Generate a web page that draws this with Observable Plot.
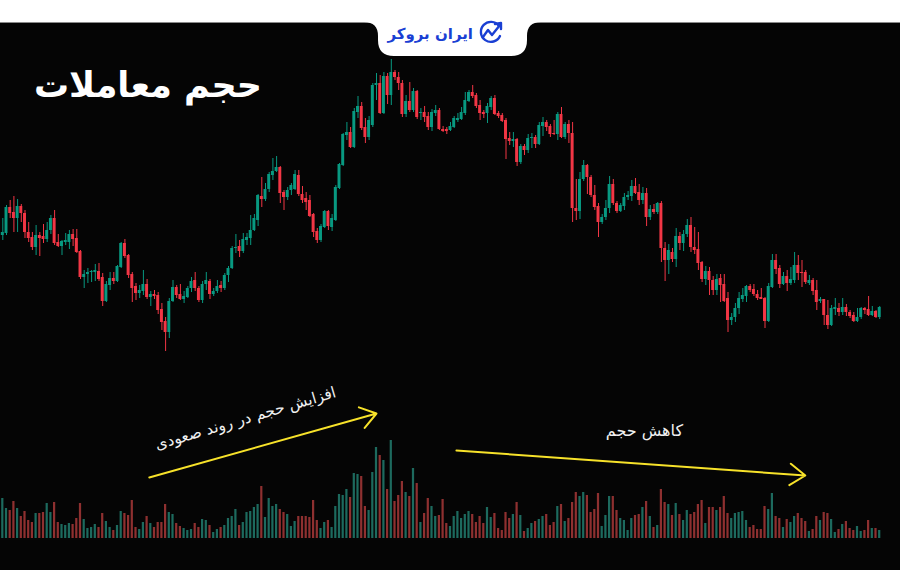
<!DOCTYPE html>
<html>
<head>
<meta charset="utf-8">
<script src="https://cdn.jsdelivr.net/npm/d3@7"></script>
<script src="https://cdn.jsdelivr.net/npm/@observablehq/plot@0.6"></script>
<style>
  html, body { margin: 0; padding: 0; background: #fff; }
  #wrap { position: relative; width: 900px; height: 570px; overflow: hidden;
          background: linear-gradient(to bottom, #ffffff 0 22px, #8a8a8a 22px 23px, #050505 23px); }
  .layer { position: absolute; left: 0; top: 0; }
  #title { position: absolute; right: 638px; top: 63px; direction: rtl; color: #fff;
           font-family: "DejaVu Sans", sans-serif; font-weight: bold; font-size: 35px; line-height: 44px;
           letter-spacing: -0.5px; white-space: nowrap; }
</style>
</head>
<body>
<div id="wrap">
  <div id="price" class="layer"></div>
  <div id="vol" class="layer"></div>
  <svg class="layer" width="900" height="60" viewBox="0 0 900 60">
    <path d="M 364 22 Q 378 22 378 36 L 378 40 Q 378 56 394 56 L 511 56 Q 527 56 527 40 L 527 36 Q 527 22 541 22 Z" fill="#ffffff"/>
    <text x="473" y="39" text-anchor="end" font-family="DejaVu Sans" font-weight="bold" font-size="15" fill="#1a3fd3">ایران بروکر</text>
    <g fill="none" stroke="#1a3fd3" stroke-width="2.4" stroke-linecap="round" stroke-linejoin="round">
      <path d="M 499 26 A 10 10 0 1 0 500 36"/>
      <polyline points="483,37 488,30 492,35 500,25"/>
      <polyline points="495,24 501,23 501,29"/>
    </g>
  </svg>
  <div id="title">حجم معاملات</div>
</div>
<script>
// ---- data (price units, volume units) ----
const open = [165,167,193,188,182,194,187,168,163,153,
165,164,161,170,182,158,154,158,158,166,
162,149,123,126,128,128,129,123,99,115,
122,119,133,157,145,126,114,107,109,116,
103,106,105,91,79,68,99,113,106,101,
103,112,120,112,100,116,119,106,109,115,
112,125,132,152,154,149,160,162,170,180,
204,201,211,225,229,233,208,203,210,211,
225,206,202,200,186,169,160,173,189,173,
180,212,235,265,268,253,288,294,273,263,
275,315,317,287,324,305,328,323,317,286,
299,290,309,287,288,284,273,287,290,271,
271,270,273,280,281,287,299,308,305,295,
288,287,293,302,287,285,280,262,259,261,
238,254,250,262,263,256,274,278,274,267,
266,286,263,276,267,192,189,221,235,223,
205,194,178,183,192,216,197,189,194,203,
204,214,208,200,207,183,191,188,197,152,
140,148,141,164,157,166,175,153,151,138,
121,129,120,110,122,116,102,80,83,92,
101,104,114,111,106,103,102,79,113,140,
132,116,124,117,120,135,128,128,117,120,
110,99,101,85,75,91,92,88,93,88,
85,79,83,92,91,85,89,83];
const close = [168,193,187,182,194,187,168,162,153,165,
162,161,170,182,157,154,159,160,166,161,
148,123,126,128,129,130,121,99,116,122,
119,134,157,144,125,112,107,110,116,103,
106,104,90,78,68,99,113,105,101,104,
112,119,112,100,116,120,106,109,114,112,
125,132,152,153,149,161,163,170,182,205,
201,211,226,229,233,207,203,210,215,226,
206,200,198,184,168,160,174,189,174,182,
213,236,266,268,253,289,294,272,263,280,
315,317,287,324,305,328,323,317,286,299,
290,309,283,288,283,273,288,290,271,269,
269,274,282,282,288,300,308,304,294,287,
286,294,302,286,284,279,261,259,261,238,
254,250,262,263,256,275,278,273,266,266,
286,263,276,267,192,189,221,235,223,205,
193,178,183,192,216,197,189,195,203,205,
214,207,200,207,183,191,188,197,152,140,
150,141,164,157,166,175,153,150,137,121,
129,120,110,121,115,99,80,83,92,102,
105,114,110,106,102,101,79,114,140,131,
116,124,117,121,135,127,127,118,120,109,
98,101,85,75,92,93,88,93,88,84,
79,83,92,90,85,89,83,93];
const high = [182,195,200,204,201,196,190,178,168,175,
168,176,178,185,190,166,160,167,170,171,
171,150,130,132,130,136,137,127,119,128,
128,135,158,161,146,128,117,115,130,121,
109,110,108,97,83,102,120,115,116,109,
114,123,128,114,119,128,121,112,120,119,
127,134,154,166,160,167,167,185,186,206,
223,217,228,242,244,234,210,213,217,230,
230,214,208,205,187,172,176,190,190,186,
215,237,267,278,273,292,304,298,282,284,
317,327,325,328,327,341,330,328,320,305,
318,312,310,292,294,288,291,295,292,274,
273,278,284,287,293,308,310,315,307,300,
290,297,304,305,289,287,282,268,268,262,
256,256,266,267,265,278,283,280,276,280,
288,293,278,280,278,221,228,240,236,225,
215,197,186,200,224,221,199,197,207,209,
220,222,216,213,212,195,196,198,199,158,
156,152,172,168,170,181,183,173,168,139,
134,133,124,126,126,126,108,87,97,108,
112,115,116,116,110,112,103,117,146,146,
135,128,130,133,148,145,140,130,125,122,
120,103,101,100,95,102,97,102,96,90,
88,92,93,93,104,94,90,94];
const low = [160,165,182,168,168,178,162,158,150,145,
144,157,158,166,155,153,145,155,151,154,
147,121,112,117,118,119,119,94,98,110,
116,118,132,142,122,98,100,102,105,101,
94,101,86,70,49,62,98,102,100,97,
102,108,109,98,97,110,101,104,107,108,
110,118,131,147,143,147,155,155,169,174,
193,199,208,220,228,197,190,200,205,210,
204,197,190,183,163,157,158,172,170,169,
179,211,234,260,252,252,282,270,257,260,
273,300,286,286,296,295,320,310,283,283,
288,288,281,280,278,270,269,284,270,268,
266,269,272,278,280,285,298,302,292,280,
282,277,290,285,282,278,241,255,253,234,
236,245,247,252,252,255,264,269,263,265,
260,262,261,257,178,180,181,219,206,203,
190,163,176,180,187,195,187,188,190,200,
199,206,195,196,174,180,186,186,138,119,
126,138,133,150,149,163,148,146,130,118,
115,105,105,105,98,98,68,75,78,86,
98,98,108,104,100,101,72,78,112,126,
112,115,109,115,117,120,113,116,115,105,
90,97,75,71,74,85,84,85,84,82,
78,78,81,86,84,84,82,81];
const volume = [40,30,28,37,30,22,27,18,16,25,
25,26,35,26,36,16,14,13,15,14,
20,35,19,10,11,14,11,25,17,11,
8,13,27,25,23,38,11,9,16,22,
15,11,16,16,34,26,24,15,12,10,
8,9,15,11,19,18,13,6,9,11,
13,20,22,29,13,16,26,27,31,34,
52,21,40,32,34,29,26,24,12,17,
22,22,22,21,38,18,10,16,18,11,
32,44,43,49,41,65,64,62,32,28,
66,91,83,78,49,98,37,43,57,46,
42,70,55,16,25,40,32,22,23,39,
15,12,22,27,20,24,27,24,16,22,
15,31,21,25,10,8,26,20,24,36,
23,7,10,15,17,19,22,24,13,16,
32,34,17,20,36,46,42,46,43,26,
29,45,12,23,42,42,28,20,18,8,
20,23,24,31,37,22,11,13,49,36,
34,23,35,24,18,28,24,26,34,38,
15,31,31,28,31,42,25,20,25,26,
27,18,11,13,9,9,32,29,45,22,
20,11,19,16,22,25,20,17,7,9,
22,18,26,25,19,6,9,14,17,10,
8,12,7,8,18,10,10,8];

// annotations in chart coordinates (bar index, volume units)
const arrowStartX = [39.6, 122.6];
const arrowStartY = [61, 88];
const arrowEndX = [101.0, 216.9];
const arrowEndY = [125, 63];
const noteText = ["افزایش حجم در روند صعودی", "کاهش حجم"];
const noteX = [65.6, 173.4];
const noteY = [120, 108];
const noteAngle = [-16.4, 0];

const GREEN = "#089981", RED = "#f23645";
const VGREEN = "#1d6a5e", VRED = "#8e3030";
const YELLOW = "#f7e22a";

const candles = d3.range(open.length).map(i => ({
  i, o: open[i], h: high[i], l: low[i], c: close[i], v: volume[i], up: close[i] >= open[i]
}));
const arrows = arrowStartX.map((_, k) => ({x1: arrowStartX[k], y1: arrowStartY[k], x2: arrowEndX[k], y2: arrowEndY[k]}));
const notes = noteText.map((t, k) => ({t, x: noteX[k], y: noteY[k], a: noteAngle[k]}));

const xScale = {domain: [0, candles.length - 1], range: [2.3, 879.2], axis: null};

const price = Plot.plot({
  width: 900, height: 570, margin: 0,
  x: xScale,
  y: {domain: [0, 400], range: [400, 0], axis: null},
  color: {type: "identity"},
  style: {background: "none"},
  marks: [
    Plot.ruleX(candles, {x: "i", y1: "l", y2: "h", stroke: d => d.up ? GREEN : RED, strokeWidth: 1}),
    Plot.rect(candles, {x1: d => d.i - 0.4, x2: d => d.i + 0.4,
      y1: d => Math.min(d.o, d.c), y2: d => Math.max(d.o, d.c),
      fill: d => d.up ? GREEN : RED})
  ]
});
document.getElementById("price").appendChild(price);

const vol = Plot.plot({
  width: 900, height: 570, margin: 0,
  x: xScale,
  y: {domain: [0, 100], range: [538, 438], axis: null},
  color: {type: "identity"},
  style: {background: "none"},
  marks: [
    Plot.rect(candles, {x1: d => d.i - 0.3, x2: d => d.i + 0.3, y1: 0, y2: "v",
      fill: d => d.up ? VGREEN : VRED}),
    Plot.arrow(arrows, {x1: "x1", y1: "y1", x2: "x2", y2: "y2", stroke: YELLOW, strokeWidth: 2, headLength: 14, headAngle: 70}),
    Plot.text(notes.filter(d => d.a !== 0), {x: "x", y: "y", text: "t", rotate: noteAngle[0], fill: "#f0f0f0",
      fontSize: 15.5, fontFamily: "DejaVu Sans", textAnchor: "middle"}),
    Plot.text(notes.filter(d => d.a === 0), {x: "x", y: "y", text: "t", fill: "#f0f0f0",
      fontSize: 16, fontFamily: "DejaVu Sans", textAnchor: "middle"})
  ]
});
document.getElementById("vol").appendChild(vol);
</script>
</body>
</html>
